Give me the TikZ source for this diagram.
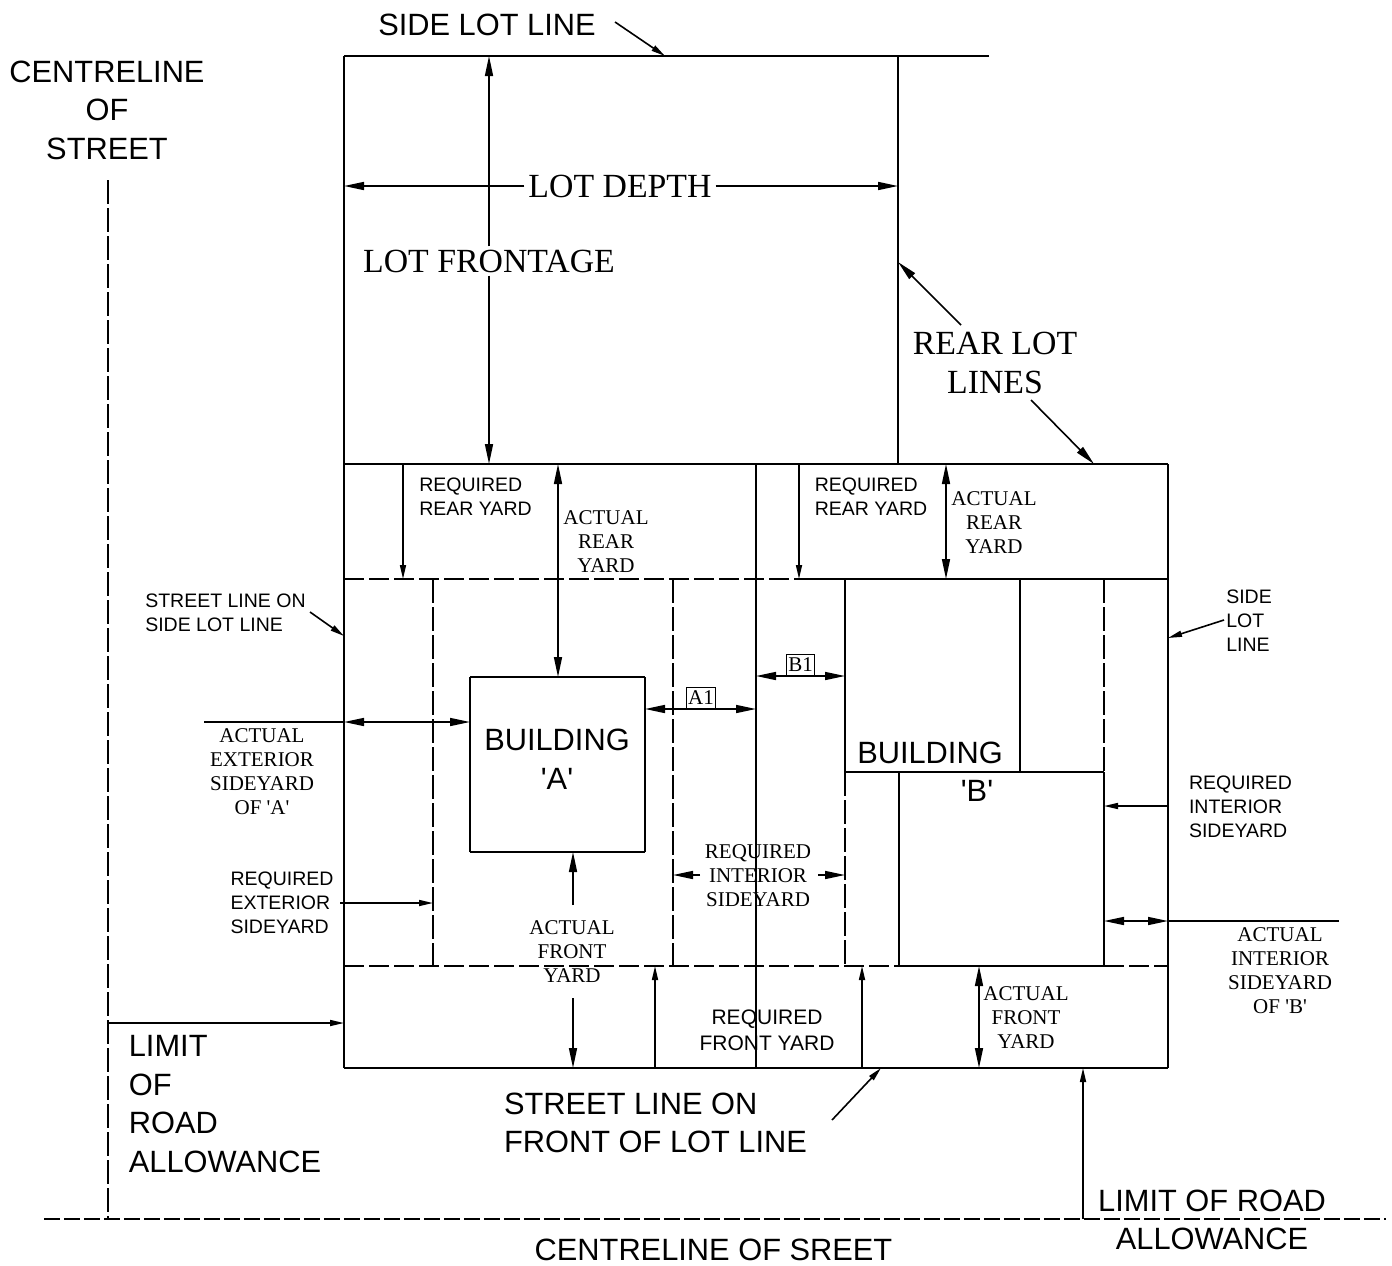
\documentclass[tikz,border=0pt]{standalone}
\usepackage{fontspec}
\setmainfont{Liberation Serif}
\setsansfont{Liberation Sans}
\usetikzlibrary{arrows.meta}
\begin{document}
\begin{tikzpicture}[x=1pt,y=-1pt,>={Triangle[length=20pt,width=8pt]}]
	\tikzstyle{big}=[inner sep=0pt,align=center,font=\sffamily\fontsize{30.8}{38.5}\selectfont]
	\tikzstyle{bigserif}=[inner sep=0pt,align=center,font=\fontsize{33.8}{38.5}\selectfont]
	\tikzstyle{small}=[inner sep=0pt,align=center,font=\fontsize{21}{24}\selectfont]
	\tikzstyle{smallsans}=[inner sep=0pt,align=left,font=\sffamily\fontsize{19.5}{24}\selectfont]
	\tikzstyle{tag}=[draw=black,line width=1pt,inner sep=1.5pt,minimum width=28pt,minimum height=22pt,font=\fontsize{21}{24}\selectfont]
	\tikzstyle{edge}=[draw=black,line width=1.6pt]
	\tikzstyle{dashh}=[draw=black,line width=1.6pt,dash pattern=on 20pt off 5pt]
	\tikzstyle{dashv}=[draw=black,line width=1.6pt,dash pattern=on 24pt off 4pt]
	\tikzstyle{dashc}=[draw=black,line width=1.6pt,dash pattern=on 16pt off 4pt]
	\tikzstyle{ptr}=[line width=1.6pt,->]
	\tikzstyle{ptrs}=[line width=1.6pt,<->]
	\tikzstyle{ptrsmall}=[line width=1.6pt,->,>={Triangle[length=14pt,width=6pt]}]

	\useasboundingbox (0,0) rectangle (1392,1266);

	% lot corners
	\coordinate (lotA) at (344,56);
	\coordinate (lotB) at (898,56);
	\coordinate (lotC) at (989,56);
	\coordinate (lotD) at (344,464);
	\coordinate (lotE) at (898,464);
	\coordinate (lotF) at (1168,464);
	\coordinate (lotG) at (344,1068);
	\coordinate (lotH) at (1168,1068);
	\coordinate (midT) at (756,464);
	\coordinate (midB) at (756,1068);

	% rear yard and front yard lines
	\coordinate (rearA) at (344,579);
	\coordinate (rearB) at (799,579);
	\coordinate (rearC) at (1168,579);
	\coordinate (frontA) at (344,966);
	\coordinate (frontB) at (899,966);
	\coordinate (frontC) at (1104,966);
	\coordinate (frontD) at (1168,966);
	\coordinate (setA) at (433,579);
	\coordinate (setB) at (433,966);
	\coordinate (setC) at (673,579);
	\coordinate (setD) at (673,966);

	% building b
	\coordinate (bldA) at (845,579);
	\coordinate (bldB) at (845,772);
	\coordinate (bldC) at (845,966);
	\coordinate (bldD) at (1020,579);
	\coordinate (bldE) at (1020,772);
	\coordinate (bldF) at (1104,579);
	\coordinate (bldG) at (1104,772);
	\coordinate (bldH) at (899,772);

	% building a
	\coordinate (bdaA) at (470,677);
	\coordinate (bdaB) at (645,677);
	\coordinate (bdaC) at (645,852);
	\coordinate (bdaD) at (470,852);

	\path[edge] (lotC) edge (lotA) (lotA) edge (lotG) (lotG) edge (lotH) (lotH) edge (lotF);
	\path[edge] (lotF) edge (lotD) (lotB) edge (lotE) (midT) edge (midB);
	\path[dashh] (rearA) edge (rearB) (frontA) edge (frontB) (frontC) edge (frontD);
	\path[edge] (rearB) edge (rearC) (frontB) edge (frontC);
	\path[dashv] (setA) edge (setB) (setC) edge (setD) (bldB) edge (bldC) (bldF) edge (bldG);
	\path[edge] (bldA) edge (bldB) (bldD) edge (bldE) (bldB) edge (bldG) (bldH) edge (frontB) (bldG) edge (frontC);
	\path[edge] (bdaA) edge (bdaB) (bdaB) edge (bdaC) (bdaC) edge (bdaD) (bdaD) edge (bdaA);

	% centrelines
	\coordinate (clsA) at (108,180);
	\coordinate (clsB) at (108,1220);
	\coordinate (clsC) at (44,1219);
	\coordinate (clsD) at (1386,1219);
	\path[dashv] (clsA) edge (clsB);
	\path[dashc] (clsC) edge (clsD);

	% large labels
	\node [big] (sideTop) at (487,25) {SIDE LOT LINE};
	\node [big] (centre) at (107,110) {CENTRELINE\\OF\\STREET};
	\node [bigserif,inner xsep=4pt] (depth) at (620,186) {LOT DEPTH};
	\node [bigserif,inner ysep=3pt] (frontage) at (489,261) {LOT FRONTAGE};
	\node [bigserif] (rearLots) at (995,363) {REAR LOT\\LINES};
	\node [big] (bldgA) at (557,759) {BUILDING\\\textquotesingle A\textquotesingle};
	\node [big] (bldgB) at (930,753) {BUILDING};
	\node [big] (bldgBb) at (977,791) {\textquotesingle B\textquotesingle};
	\node [big,align=left] (limit) at (225,1104) {LIMIT\\OF\\ROAD\\ALLOWANCE};
	\node [big,align=left] (streetFront) at (655.5,1123) {STREET LINE ON\\FRONT OF LOT LINE};
	\node [big] (limitRight) at (1212,1220) {LIMIT OF ROAD\\ALLOWANCE};
	\node [big] (centreSt) at (713.5,1250) {CENTRELINE OF SREET};

	% small labels
	\node [smallsans] (reqA) at (475.5,497) {REQUIRED\\REAR YARD};
	\node [smallsans] (reqB) at (871,497) {REQUIRED\\REAR YARD};
	\node [small] (actA) at (606,542) {ACTUAL\\REAR\\YARD};
	\node [small] (actB) at (994,523) {ACTUAL\\REAR\\YARD};
	\node [smallsans] (strSide) at (225.5,613) {STREET LINE ON\\SIDE LOT LINE};
	\node [smallsans] (sideRight) at (1249,621) {SIDE\\LOT\\LINE};
	\node [small] (extLabel) at (262,772) {ACTUAL\\EXTERIOR\\SIDEYARD\\OF \textquotesingle A\textquotesingle};
	\node [smallsans] (reqExt) at (282,903) {REQUIRED\\EXTERIOR\\SIDEYARD};
	\node [small] (reqInt) at (758,876) {REQUIRED\\INTERIOR\\SIDEYARD};
	\node [small] (actFrontA) at (572,952) {ACTUAL\\FRONT\\YARD};
	\node [smallsans,align=center,font=\sffamily\fontsize{21}{25.5}\selectfont] (reqFront) at (767,1030.5) {REQUIRED\\FRONT YARD};
	\node [small] (actFrontB) at (1026,1018) {ACTUAL\\FRONT\\YARD};
	\node [smallsans] (reqIntR) at (1240.5,807) {REQUIRED\\INTERIOR\\SIDEYARD};
	\node [small] (actIntB) at (1280,971) {ACTUAL\\INTERIOR\\SIDEYARD\\OF \textquotesingle B\textquotesingle};
	\node [tag] (tagA) at (701,698) {A1};
	\node [tag] (tagB) at (800.5,665) {B1};

	% leaders
	\coordinate (sideTopA) at (615,22);
	\coordinate (sideTopB) at (665,56);
	\draw[ptrsmall] (sideTopA) -- (sideTopB);
	\coordinate (depthA) at (344,186);
	\coordinate (depthB) at (898,186);
	\draw[ptr] (depth) -- (depthA);
	\draw[ptr] (depth) -- (depthB);
	\coordinate (frontT) at (489,56);
	\coordinate (frontU) at (489,464);
	\draw[ptr] (frontage) -- (frontT);
	\draw[ptr] (frontage) -- (frontU);
	\coordinate (rearLotA) at (961,325);
	\coordinate (rearLotB) at (898,262);
	\coordinate (rearLotC) at (1031,400);
	\coordinate (rearLotD) at (1094,464);
	\draw[ptr] (rearLotA) -- (rearLotB);
	\draw[ptr] (rearLotC) -- (rearLotD);

	\coordinate (reqAT) at (403,464);
	\coordinate (reqAB) at (403,579);
	\coordinate (reqBT) at (799,464);
	\draw[ptrsmall] (reqAT) -- (reqAB);
	\draw[ptrsmall] (reqBT) -- (rearB);
	\coordinate (actAT) at (558,464);
	\coordinate (actAB) at (558,677);
	\coordinate (actBT) at (946,464);
	\coordinate (actBB) at (946,579);
	\draw[ptrs] (actAT) -- (actAB);
	\draw[ptrs] (actBT) -- (actBB);

	\coordinate (strSideA) at (310,612);
	\coordinate (strSideB) at (344,636);
	\coordinate (sideRA) at (1224,620);
	\coordinate (sideRB) at (1168,638);
	\draw[ptrsmall] (strSideA) -- (strSideB);
	\draw[ptrsmall] (sideRA) -- (sideRB);

	\coordinate (extL) at (204,722);
	\coordinate (extM) at (344,722);
	\coordinate (extR) at (470,722);
	\path[edge] (extL) edge (extM);
	\draw[ptrs] (extM) -- (extR);

	\coordinate (aL) at (645,709);
	\coordinate (aR) at (756,709);
	\coordinate (bL) at (756,676);
	\coordinate (bR) at (845,676);
	\draw[ptrs] (aL) -- (aR);
	\draw[ptrs] (bL) -- (bR);

	\coordinate (intA) at (700,875);
	\coordinate (intB) at (673,875);
	\coordinate (intC) at (818,875);
	\coordinate (intD) at (845,875);
	\draw[ptr] (intA) -- (intB);
	\draw[ptr] (intC) -- (intD);

	\coordinate (extS) at (340,903);
	\coordinate (extE) at (433,903);
	\draw[ptrsmall] (extS) -- (extE);

	\coordinate (fyA) at (573,905);
	\coordinate (fyB) at (573,852);
	\coordinate (fyC) at (573,998);
	\coordinate (fyD) at (573,1068);
	\draw[ptr] (fyA) -- (fyB);
	\draw[ptr] (fyC) -- (fyD);

	\coordinate (rfA) at (655,1068);
	\coordinate (rfB) at (655,966);
	\coordinate (rfC) at (862,1068);
	\coordinate (rfD) at (862,966);
	\draw[ptrsmall] (rfA) -- (rfB);
	\draw[ptrsmall] (rfC) -- (rfD);
	\coordinate (afA) at (979,966);
	\coordinate (afB) at (979,1068);
	\draw[ptrs] (afA) -- (afB);

	\coordinate (riA) at (1168,806);
	\coordinate (riB) at (1104,806);
	\draw[ptrsmall] (riA) -- (riB);
	\coordinate (aiA) at (1339,921);
	\coordinate (aiB) at (1168,921);
	\coordinate (aiC) at (1104,921);
	\path[edge] (aiA) edge (aiB);
	\draw[ptrs] (aiC) -- (aiB);

	\coordinate (roadA) at (108,1023);
	\coordinate (roadB) at (344,1023);
	\coordinate (roadC) at (1083,1219);
	\coordinate (roadD) at (1083,1068);
	\draw[ptrsmall] (roadA) -- (roadB);
	\draw[ptrsmall] (roadC) -- (roadD);
	\coordinate (sfA) at (832,1120);
	\coordinate (sfB) at (881,1068);
	\draw[ptrsmall] (sfA) -- (sfB);
\end{tikzpicture}
\end{document}
